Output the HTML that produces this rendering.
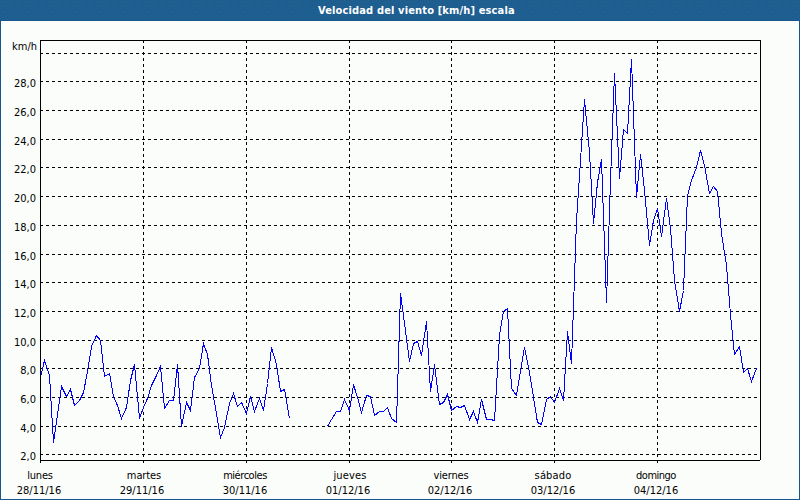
<!DOCTYPE html>
<html><head><meta charset="utf-8"><style>
html,body{margin:0;padding:0}
body{width:800px;height:500px;overflow:hidden;background:#fbfdfa;position:relative;font-family:"DejaVu Sans Condensed","DejaVu Sans","Liberation Sans",sans-serif;font-stretch:condensed;font-size:11px;color:#000}
#tb{position:absolute;left:0;top:0;width:800px;height:20px;background:#1e5e8d}
#tt{position:absolute;left:318px;top:4px;color:#fff;font-weight:bold;font-size:11px;line-height:14px;white-space:nowrap;letter-spacing:0.14px}
#bl{position:absolute;left:0;top:20px;width:1px;height:480px;background:#16578f}
#br{position:absolute;left:799px;top:20px;width:1px;height:480px;background:#16578f}
#bb{position:absolute;left:0;top:499px;width:800px;height:1px;background:#16578f}
svg{position:absolute;left:0;top:0}
.d{stroke:#000;stroke-width:1;stroke-dasharray:3 3;shape-rendering:crispEdges}
.f{stroke:#000;stroke-width:1;fill:none;shape-rendering:crispEdges}
.l{stroke:#0000ff;stroke-width:1;fill:none;shape-rendering:crispEdges;stroke-linejoin:miter}
.yl{position:absolute;right:764px;line-height:13px;white-space:nowrap}
.ku{position:absolute;right:763px;top:40px;line-height:13px}
.xl{position:absolute;top:468px;width:80px;text-align:center;line-height:15px;white-space:nowrap}
</style></head><body>
<svg id="tbs" width="800" height="20" style="position:absolute;left:0;top:0"><defs><pattern id="dp" width="24" height="20" patternUnits="userSpaceOnUse"><g fill="#2362a8"><rect x="8" y="0" width="1" height="1"/><rect x="16" y="0" width="1" height="1"/><rect x="4" y="1" width="1" height="1"/><rect x="12" y="1" width="1" height="1"/><rect x="20" y="1" width="1" height="1"/><rect x="1" y="2" width="1" height="1"/><rect x="6" y="2" width="1" height="1"/><rect x="9" y="2" width="1" height="1"/><rect x="14" y="2" width="1" height="1"/><rect x="17" y="2" width="1" height="1"/><rect x="22" y="2" width="1" height="1"/><rect x="4" y="4" width="1" height="1"/><rect x="11" y="4" width="1" height="1"/><rect x="19" y="4" width="1" height="1"/><rect x="2" y="5" width="1" height="1"/><rect x="8" y="5" width="1" height="1"/><rect x="13" y="5" width="1" height="1"/><rect x="16" y="5" width="1" height="1"/><rect x="21" y="5" width="1" height="1"/><rect x="6" y="6" width="1" height="1"/><rect x="11" y="7" width="1" height="1"/><rect x="19" y="7" width="1" height="1"/><rect x="1" y="8" width="1" height="1"/><rect x="4" y="8" width="1" height="1"/><rect x="7" y="8" width="1" height="1"/><rect x="15" y="8" width="1" height="1"/><rect x="23" y="8" width="1" height="1"/><rect x="9" y="9" width="1" height="1"/><rect x="13" y="9" width="1" height="1"/><rect x="17" y="9" width="1" height="1"/><rect x="21" y="9" width="1" height="1"/><rect x="2" y="11" width="1" height="1"/><rect x="5" y="11" width="1" height="1"/><rect x="8" y="11" width="1" height="1"/><rect x="12" y="11" width="1" height="1"/><rect x="16" y="11" width="1" height="1"/><rect x="20" y="11" width="1" height="1"/><rect x="3" y="13" width="1" height="1"/><rect x="10" y="13" width="1" height="1"/><rect x="14" y="13" width="1" height="1"/><rect x="18" y="13" width="1" height="1"/><rect x="22" y="13" width="1" height="1"/><rect x="7" y="14" width="1" height="1"/><rect x="1" y="15" width="1" height="1"/><rect x="9" y="15" width="1" height="1"/><rect x="13" y="15" width="1" height="1"/><rect x="17" y="15" width="1" height="1"/><rect x="21" y="15" width="1" height="1"/><rect x="5" y="16" width="1" height="1"/><rect x="3" y="17" width="1" height="1"/><rect x="8" y="17" width="1" height="1"/><rect x="12" y="17" width="1" height="1"/><rect x="16" y="17" width="1" height="1"/><rect x="20" y="17" width="1" height="1"/><rect x="2" y="19" width="1" height="1"/><rect x="6" y="19" width="1" height="1"/><rect x="10" y="19" width="1" height="1"/><rect x="14" y="19" width="1" height="1"/><rect x="18" y="19" width="1" height="1"/><rect x="22" y="19" width="1" height="1"/></g></pattern></defs><rect width="800" height="20" fill="#1e5e8d"/><rect width="800" height="20" fill="url(#dp)"/></svg>
<div id="tt">Velocidad del viento [km/h] escala</div>
<div id="bt" style="position:absolute;left:0;top:20px;width:800px;height:1px;background:#16578f"></div><div id="bl"></div><div id="br"></div><div id="bb"></div>
<svg width="800" height="500" viewBox="0 0 800 500">
<line x1="40" y1="53.5" x2="760" y2="53.5" class="d"/>
<line x1="40" y1="81.5" x2="760" y2="81.5" class="d"/>
<line x1="40" y1="110.5" x2="760" y2="110.5" class="d"/>
<line x1="40" y1="139.5" x2="760" y2="139.5" class="d"/>
<line x1="40" y1="167.5" x2="760" y2="167.5" class="d"/>
<line x1="40" y1="196.5" x2="760" y2="196.5" class="d"/>
<line x1="40" y1="225.5" x2="760" y2="225.5" class="d"/>
<line x1="40" y1="254.5" x2="760" y2="254.5" class="d"/>
<line x1="40" y1="282.5" x2="760" y2="282.5" class="d"/>
<line x1="40" y1="311.5" x2="760" y2="311.5" class="d"/>
<line x1="40" y1="340.5" x2="760" y2="340.5" class="d"/>
<line x1="40" y1="368.5" x2="760" y2="368.5" class="d"/>
<line x1="40" y1="397.5" x2="760" y2="397.5" class="d"/>
<line x1="40" y1="426.5" x2="760" y2="426.5" class="d"/>
<line x1="40" y1="454.5" x2="760" y2="454.5" class="d"/>
<line x1="143.5" y1="40" x2="143.5" y2="463" class="d"/>
<line x1="246.5" y1="40" x2="246.5" y2="463" class="d"/>
<line x1="349.5" y1="40" x2="349.5" y2="463" class="d"/>
<line x1="451.5" y1="40" x2="451.5" y2="463" class="d"/>
<line x1="554.5" y1="40" x2="554.5" y2="463" class="d"/>
<line x1="657.5" y1="40" x2="657.5" y2="463" class="d"/>
<polyline points="40.5,377.5 44.5,360.5 49.5,375.5 53.5,442.5 57.5,414.5 61.5,386.5 66.5,396.5 70.5,389.5 74.5,405.5 79.5,400.5 83.5,392.5 87.5,371.5 91.5,346.5 96.5,335.5 100.5,340.5 104.5,376.5 109.5,373.5 113.5,396.5 117.5,405.5 121.5,418.5 126.5,407.5 130.5,380.5 134.5,364.5 139.5,418.5 143.5,407.5 147.5,398.5 151.5,385.5 156.5,375.5 160.5,366.5 164.5,408.5 169.5,400.5 173.5,400.5 177.5,364.5 181.5,426.5 186.5,402.5 190.5,410.5 194.5,377.5 199.5,368.5 203.5,343.5 207.5,354.5 211.5,385.5 216.5,413.5 220.5,437.5 224.5,427.5 229.5,403.5 233.5,393.5 237.5,406.5 241.5,402.5 246.5,413.5 250.5,396.5 254.5,411.5 259.5,398.5 263.5,410.5 267.5,383.5 271.5,347.5 276.5,364.5 280.5,391.5 284.5,389.5 289.5,418.5" class="l"/>
<polyline points="327.5,426.5 331.5,419.5 336.5,411.5 340.5,411.5 344.5,399.5 349.5,410.5 353.5,384.5 357.5,397.5 361.5,412.5 366.5,395.5 370.5,396.5 374.5,415.5 379.5,411.5 383.5,411.5 387.5,407.5 391.5,418.5 396.5,422.5 400.5,293.5 404.5,323.5 409.5,361.5 413.5,343.5 417.5,341.5 421.5,355.5 426.5,321.5 430.5,391.5 434.5,364.5 439.5,404.5 443.5,402.5 447.5,394.5 451.5,410.5 456.5,406.5 460.5,407.5 464.5,405.5 469.5,419.5 473.5,411.5 477.5,422.5 481.5,399.5 486.5,419.5 490.5,419.5 494.5,420.5 499.5,335.5 503.5,311.5 507.5,308.5 511.5,388.5 516.5,395.5 520.5,371.5 524.5,347.5 529.5,372.5 533.5,397.5 537.5,422.5 541.5,424.5 546.5,399.5 550.5,396.5 554.5,402.5 559.5,388.5 563.5,400.5 567.5,331.5 571.5,363.5 576.5,220.5 580.5,160.5 584.5,99.5 589.5,152.5 593.5,223.5 597.5,182.5 601.5,159.5 606.5,302.5 610.5,180.5 614.5,73.5 619.5,178.5 623.5,129.5 627.5,133.5 631.5,59.5 636.5,197.5 640.5,154.5 644.5,190.5 649.5,245.5 653.5,220.5 657.5,208.5 661.5,236.5 666.5,198.5 670.5,228.5 674.5,280.5 679.5,311.5 683.5,290.5 687.5,195.5 691.5,180.5 696.5,167.5 700.5,150.5 704.5,165.5 709.5,193.5 713.5,186.5 717.5,191.5 721.5,233.5 726.5,265.5 730.5,314.5 734.5,354.5 739.5,346.5 743.5,372.5 747.5,368.5 751.5,381.5 756.5,368.5" class="l"/>
<path d="M40.5 40V463M40 40.5H761M760.5 40V460M40 460.5H760" class="f"/>
</svg>
<div class="ku">km/h</div>
<div class="yl" style="top:77px">28,0</div>
<div class="yl" style="top:106px">26,0</div>
<div class="yl" style="top:135px">24,0</div>
<div class="yl" style="top:163px">22,0</div>
<div class="yl" style="top:192px">20,0</div>
<div class="yl" style="top:221px">18,0</div>
<div class="yl" style="top:250px">16,0</div>
<div class="yl" style="top:278px">14,0</div>
<div class="yl" style="top:307px">12,0</div>
<div class="yl" style="top:336px">10,0</div>
<div class="yl" style="top:364px">8,0</div>
<div class="yl" style="top:393px">6,0</div>
<div class="yl" style="top:422px">4,0</div>
<div class="yl" style="top:450px">2,0</div>
<div class="xl" style="left:-1px"><span style="position:relative;left:1px;letter-spacing:-0.2px">lunes</span><br>28/11/16</div>
<div class="xl" style="left:102px"><span style="position:relative;left:2px;letter-spacing:-0.1px">martes</span><br>29/11/16</div>
<div class="xl" style="left:205px"><span style="position:relative;left:0px;letter-spacing:-0.45px">miércoles</span><br>30/11/16</div>
<div class="xl" style="left:308px"><span style="position:relative;left:2px;letter-spacing:0.15px">jueves</span><br>01/12/16</div>
<div class="xl" style="left:410px"><span style="position:relative;left:1px;letter-spacing:-0.15px">viernes</span><br>02/12/16</div>
<div class="xl" style="left:513px"><span style="position:relative;left:0px;letter-spacing:0.15px">sábado</span><br>03/12/16</div>
<div class="xl" style="left:616px"><span style="position:relative;left:0px;letter-spacing:-0.5px">domingo</span><br>04/12/16</div>
</body></html>
